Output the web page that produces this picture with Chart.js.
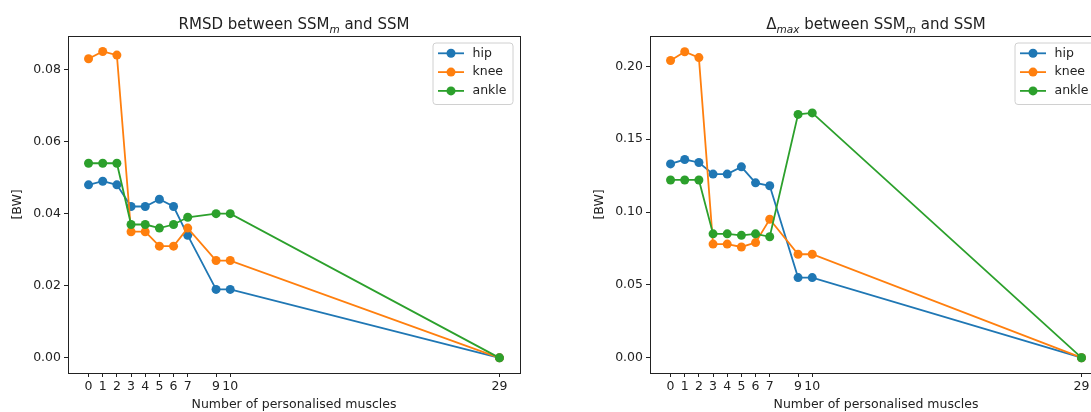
<!DOCTYPE html>
<html>
<head>
<meta charset="utf-8">
<script src="https://cdn.jsdelivr.net/npm/chart.js@4.4.1/dist/chart.umd.min.js"></script>
<style>
  html, body { margin: 0; padding: 0; background: #fff; overflow: hidden; width: 1091px; height: 412px; }
  #wrap { position: relative; width: 1091px; height: 412px; overflow: hidden; }
  canvas { position: absolute; top: 0; }
  #rmsdChart { left: 0; }
  #dmaxChart { left: 582px; }
</style>
</head>
<body>
<div id="wrap">
  <canvas id="rmsdChart" width="540" height="412"></canvas>
  <canvas id="dmaxChart" width="540" height="412"></canvas>
</div>
<script>
// Number of personalised muscles
const muscles = [0, 1, 2, 3, 4, 5, 6, 7, 9, 10, 29];
const xTicks = [0, 1, 2, 3, 4, 5, 6, 7, 9, 10, 29];

// RMSD between SSMm and SSM [BW]
const rmsdHip   = [0.048, 0.049, 0.048, 0.042, 0.042, 0.044, 0.042, 0.034, 0.019, 0.019, 0];
const rmsdKnee  = [0.083, 0.085, 0.084, 0.035, 0.035, 0.031, 0.031, 0.036, 0.027, 0.027, 0];
const rmsdAnkle = [0.054, 0.054, 0.054, 0.037, 0.037, 0.036, 0.037, 0.039, 0.040, 0.040, 0];
const rmsdTicks = [0, 0.02, 0.04, 0.06, 0.08];

// Delta max between SSMm and SSM [BW]
const dmaxHip   = [0.133, 0.136, 0.134, 0.126, 0.126, 0.131, 0.120, 0.118, 0.055, 0.055, 0];
const dmaxKnee  = [0.204, 0.210, 0.206, 0.078, 0.078, 0.076, 0.079, 0.095, 0.071, 0.071, 0];
const dmaxAnkle = [0.122, 0.122, 0.122, 0.085, 0.085, 0.084, 0.085, 0.083, 0.167, 0.168, 0];
const dmaxTicks = [0, 0.05, 0.10, 0.15, 0.20];

const seriesNames = ['hip', 'knee', 'ankle'];
const colors = ['#1f77b4', '#ff7f0e', '#2ca02c'];
const FONT = '"DejaVu Sans", sans-serif';
const INK = '#222';

function points(ys) {
    return muscles.map((x, i) => ({ x: x, y: ys[i] }));
}

function makeDatasets(hip, knee, ankle) {
    return [hip, knee, ankle].map((ys, i) => ({
        label: seriesNames[i],
        data: points(ys),
        borderColor: colors[i],
        backgroundColor: colors[i],
        borderWidth: 1.8,
        pointRadius: 4.5,
        pointBorderWidth: 0,
        pointHoverRadius: 4.5,
        tension: 0,
        order: 3 - i
    }));
}

// title with subscripts (matplotlib mathtext look)
const subTitle = {
    id: 'subTitle',
    afterDraw(chart, args, opts) {
        const ctx = chart.ctx;
        const a = chart.chartArea;
        const big = '15px ' + FONT;
        const small = 'italic 10.5px ' + FONT;
        ctx.save();
        let total = 0;
        opts.parts.forEach(p => {
            ctx.font = p[1] ? small : big;
            total += ctx.measureText(p[0]).width;
        });
        let x = (a.left + a.right) / 2 - total / 2;
        const y = 29;
        ctx.fillStyle = INK;
        ctx.textBaseline = 'alphabetic';
        opts.parts.forEach(p => {
            ctx.font = p[1] ? small : big;
            ctx.fillText(p[0], x, p[1] ? y + 3.5 : y);
            x += ctx.measureText(p[0]).width;
        });
        ctx.restore();
    }
};

// box round the plot area and legend in the upper right
const frameLegend = {
    id: 'frameLegend',
    afterDraw(chart) {
        const ctx = chart.ctx;
        const a = chart.chartArea;
        ctx.save();
        ctx.strokeStyle = INK;
        ctx.lineWidth = 1;
        ctx.strokeRect(Math.round(a.left) + 0.5, Math.round(a.top) + 0.5,
            Math.round(a.right - a.left), Math.round(a.bottom - a.top));

        const bx = a.right - 87.5, by = a.top + 6.5, bw = 80, bh = 61.5;
        ctx.beginPath();
        ctx.roundRect(bx + 0.5, by + 0.5, bw, bh, 3);
        ctx.fillStyle = 'rgba(255,255,255,0.8)';
        ctx.fill();
        ctx.strokeStyle = '#d0d0d0';
        ctx.stroke();

        ctx.font = '12.5px ' + FONT;
        ctx.textBaseline = 'middle';
        chart.data.datasets.forEach((ds, i) => {
            const cy = by + 10.8 + i * 18.8;
            ctx.strokeStyle = ds.borderColor;
            ctx.lineWidth = 1.8;
            ctx.beginPath();
            ctx.moveTo(bx + 5.5, cy);
            ctx.lineTo(bx + 31.5, cy);
            ctx.stroke();
            ctx.fillStyle = ds.backgroundColor;
            ctx.beginPath();
            ctx.arc(bx + 18.5, cy, 4.5, 0, Math.PI * 2);
            ctx.fill();
            ctx.fillStyle = INK;
            ctx.fillText(ds.label, bx + 40, cy);
        });
        ctx.restore();
    }
};

function makeConfig(datasets, yTicks, yMin, yMax, titleParts) {
    return {
        type: 'line',
        data: { datasets: datasets },
        options: {
            responsive: false,
            animation: false,
            events: [],
            layout: { padding: { top: 36, right: 20, bottom: 0, left: 0 } },
            plugins: {
                legend: { display: false },
                tooltip: { enabled: false },
                subTitle: { parts: titleParts }
            },
            scales: {
                x: {
                    type: 'linear',
                    min: -1.45,
                    max: 30.45,
                    afterBuildTicks: s => { s.ticks = xTicks.map(v => ({ value: v })); },
                    afterFit: s => { s.height = 39; },
                    border: { display: false },
                    grid: { drawOnChartArea: false, drawTicks: true, tickLength: 4, color: INK },
                    ticks: {
                        autoSkip: false, maxRotation: 0, padding: 2,
                        color: INK, font: { family: FONT, size: 12.5 },
                        callback: v => String(v)
                    },
                    title: {
                        display: true, text: 'Number of personalised muscles', color: INK,
                        font: { family: FONT, size: 12.5 }, padding: { top: 0, bottom: 0 }
                    }
                },
                y: {
                    min: yMin,
                    max: yMax,
                    afterBuildTicks: s => { s.ticks = yTicks.map(v => ({ value: v })); },
                    afterFit: s => { s.width = 68; },
                    border: { display: false },
                    grid: { drawOnChartArea: false, drawTicks: true, tickLength: 4, color: INK },
                    ticks: {
                        color: INK, font: { family: FONT, size: 12.5 }, padding: 3,
                        callback: v => v.toFixed(2)
                    },
                    title: {
                        display: true, text: '[BW]', color: INK,
                        font: { family: FONT, size: 12.5 }, padding: { top: 10, bottom: 0 }
                    }
                }
            }
        },
        plugins: [subTitle, frameLegend]
    };
}

window.onload = function() {
    const rmsdCtx = document.getElementById('rmsdChart').getContext('2d');
    new Chart(rmsdCtx, makeConfig(makeDatasets(rmsdHip, rmsdKnee, rmsdAnkle),
        rmsdTicks, -0.0042, 0.0893,
        [['RMSD between SSM', 0], ['m', 1], [' and SSM', 0]]));

    const dmaxCtx = document.getElementById('dmaxChart').getContext('2d');
    new Chart(dmaxCtx, makeConfig(makeDatasets(dmaxHip, dmaxKnee, dmaxAnkle),
        dmaxTicks, -0.0105, 0.2208,
        [['\u0394', 0], ['max', 1], [' between SSM', 0], ['m', 1], [' and SSM', 0]]));
};
</script>
</body>
</html>
